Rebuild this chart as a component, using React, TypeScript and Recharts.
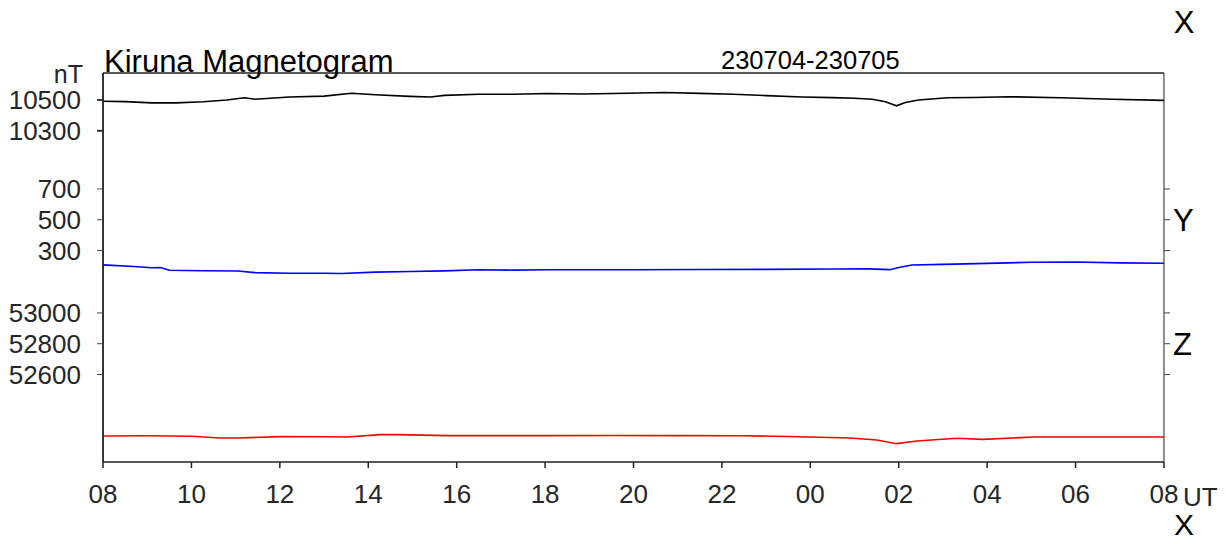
import { Line, LineChart, XAxis, YAxis } from "recharts"

// hours after 08 UT on 230704
const xHours = [0, 0.5, 1.1, 1.65, 2.27, 2.8, 3.2, 3.44, 4.22, 5.0, 5.62, 6.16, 6.94, 7.41, 7.72, 8.5, 9.28, 10.06, 10.84, 11.85, 12.7, 13.5, 14.26, 15.0, 15.82, 16.5, 17.0, 17.4, 17.7, 17.95, 18.15, 18.45, 19.1, 19.7, 20.5, 21.66, 22.83, 24]
const xNT = [10492, 10489, 10481, 10481, 10488, 10500, 10514, 10505, 10519, 10525, 10544, 10534, 10523, 10519, 10530, 10537, 10537, 10542, 10539, 10544, 10548, 10543, 10537, 10528, 10519, 10515, 10511, 10505, 10488, 10462, 10484, 10500, 10514, 10516, 10521, 10514, 10505, 10497]

const yHours = [0, 0.7, 1.1, 1.3, 1.5, 2.27, 3.05, 3.44, 4.22, 5.0, 5.39, 6.16, 6.94, 7.72, 8.5, 9.28, 10.06, 10.84, 12.0, 13.5, 15.0, 16.5, 17.3, 17.8, 18.0, 18.3, 19.0, 20.0, 21.0, 22.0, 23.0, 24]
const yNT = [207, 196, 188, 190, 172, 169, 167, 157, 153, 153, 151, 160, 164, 168, 175, 173, 175, 175, 175, 177, 178, 180, 181, 176, 190, 206, 210, 217, 224, 226, 220, 218]

const zHours = [0, 1.0, 2.0, 2.65, 3.1, 4.0, 5.0, 5.52, 6.27, 6.65, 7.78, 8.53, 10.0, 11.5, 13.0, 14.5, 15.5, 16.9, 17.5, 17.95, 18.41, 19.32, 19.9, 21.04, 22.5, 24]
const zNT = [52201, 52202, 52199, 52188, 52188, 52197, 52196, 52194, 52210, 52210, 52203, 52203, 52203, 52204, 52203, 52202, 52198, 52188, 52175, 52151, 52168, 52186, 52179, 52194, 52194, 52194]

const hourTicks = [0, 2, 4, 6, 8, 10, 12, 14, 16, 18, 20, 22, 24]
const xTicks = [10300, 10500]
const yTicks = [300, 500, 700]
const zTicks = [52600, 52800, 53000]

const xDomain = [8149, 10675]
const yDomain = [-1073, 1453]
const zDomain = [52032, 54558]

const toRows = (hours: number[], vals: number[]) => hours.map((t, i) => ({ t, v: vals[i] }))
const xData = toRows(xHours, xNT)
const yData = toRows(yHours, yNT)
const zData = toRows(zHours, zNT)

const font = "'Liberation Sans', Arial, sans-serif"
const tickFont = { fontSize: 26, fill: "#262626", fontFamily: font }
const thin = 0.01 // axes of zero size are not drawn

const letterTick = (letter: string, at: number) => (props: any) => {
  if (props.payload.value !== at) return <g />
  return (
    <text x={props.x + 1} y={props.y + 11} fontSize={31} fontFamily={font} fill="#000">
      {letter}
    </text>
  )
}

export default function App() {
  return (
    <div style={{ position: "relative", width: 1226, height: 544, overflow: "hidden" }}>
      <style>{"body{margin:0}"}</style>
      <LineChart width={1226} height={544} margin={{ top: 73, right: 62, bottom: 82, left: 103 }}>
        <XAxis
          type="number"
          dataKey="t"
          domain={[0, 24]}
          ticks={hourTicks}
          interval={0}
          height={thin}
          tickSize={6}
          tickMargin={17}
          tick={tickFont}
          stroke="#222"
          strokeWidth={1.5}
          tickFormatter={(v: any) => String((8 + v) % 24).padStart(2, "0")}
          allowDataOverflow
        />
        <XAxis
          xAxisId="top"
          orientation="top"
          type="number"
          domain={[0, 24]}
          ticks={hourTicks}
          interval={0}
          height={thin}
          tickSize={5}
          tick={false}
          stroke="#222"
          strokeWidth={1.5}
          allowDataOverflow
        />
        <YAxis yAxisId="x" type="number" domain={xDomain} ticks={xTicks} interval={0} width={thin} tickSize={6} tickMargin={16} tick={tickFont} stroke="#222" strokeWidth={1.8} allowDataOverflow />
        <YAxis yAxisId="y" type="number" domain={yDomain} ticks={yTicks} interval={0} width={thin} tickSize={6} tickMargin={16} tick={tickFont} stroke="#444" axisLine={false} allowDataOverflow />
        <YAxis yAxisId="z" type="number" domain={zDomain} ticks={zTicks} interval={0} width={thin} tickSize={6} tickMargin={16} tick={tickFont} stroke="#444" axisLine={false} allowDataOverflow />
        <YAxis yAxisId="xr" orientation="right" type="number" domain={xDomain} ticks={xTicks} interval={0} width={thin} tickSize={6} tick={false} stroke="#222" allowDataOverflow />
        <YAxis yAxisId="yr" orientation="right" type="number" domain={yDomain} ticks={yTicks} interval={0} width={thin} tickSize={6} tick={letterTick("Y", 500)} stroke="#444" axisLine={false} allowDataOverflow />
        <YAxis yAxisId="zr" orientation="right" type="number" domain={zDomain} ticks={zTicks} interval={0} width={thin} tickSize={6} tick={letterTick("Z", 52800)} stroke="#444" axisLine={false} allowDataOverflow />
        <Line yAxisId="x" data={xData} dataKey="v" stroke="#000" strokeWidth={1.6} dot={false} isAnimationActive={false} />
        <Line yAxisId="y" data={yData} dataKey="v" stroke="#0000ff" strokeWidth={1.6} dot={false} isAnimationActive={false} />
        <Line yAxisId="z" data={zData} dataKey="v" stroke="#ff0000" strokeWidth={1.6} dot={false} isAnimationActive={false} />
      </LineChart>
      <svg width={1226} height={544} style={{ position: "absolute", left: 0, top: 0, pointerEvents: "none" }} fontFamily={font}>
        <text x={104} y={72} fontSize={31} fill="#000">Kiruna Magnetogram</text>
        <text x={721} y={69} fontSize={25.5} fill="#000">230704-230705</text>
        <text x={83} y={83} fontSize={25} fill="#262626" textAnchor="end">nT</text>
        <text x={1183} y={506} fontSize={26} fill="#262626">UT</text>
        <text x={1184} y={33} fontSize={31} fill="#000" textAnchor="middle">X</text>
        <text x={1184} y={535} fontSize={30} fill="#000" textAnchor="middle">X</text>
      </svg>
    </div>
  )
}
